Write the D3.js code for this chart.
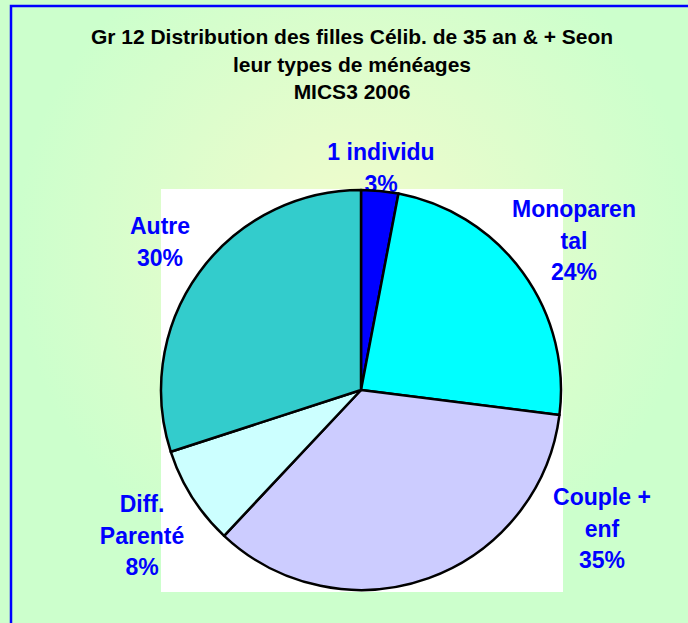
<!DOCTYPE html>
<html>
<head>
<meta charset="utf-8">
<script src="https://cdn.jsdelivr.net/npm/d3@7"></script>
<style>
  body { margin: 0; background: #ccffcc; }
  svg { display: block; font-family: "Liberation Sans", Arial, sans-serif; }
</style>
</head>
<body>
<svg width="688" height="623"></svg>
<script>
const titleLines = ["Gr 12 Distribution des filles Célib. de 35 an & + Seon", "leur types de ménéages", "MICS3 2006"];
const categories = ["1 individu", "Monoparental", "Couple + enf", "Diff. Parenté", "Autre"];
const values = [3, 24, 35, 8, 30];
const colors = ["#0000ff", "#00ffff", "#ccccff", "#ccffff", "#33cccc"];
// label text as wrapped in the original
const labelLines = [["1 individu", "3%"], ["Monoparen", "tal", "24%"], ["Couple +", "enf", "35%"], ["Diff.", "Parenté", "8%"], ["Autre", "30%"]];
const labelPos = [[381, 160], [574, 217], [602, 505], [142, 512], [160, 234]];

const svg = d3.select("svg");
const width = +svg.attr("width");
const height = +svg.attr("height");

const defs = svg.append("defs");
const grad = defs.append("radialGradient").attr("id", "bg")
  .attr("gradientUnits", "userSpaceOnUse")
  .attr("cx", 355).attr("cy", 250).attr("r", 340);
grad.append("stop").attr("offset", 0).attr("stop-color", "#f2fccc");
grad.append("stop").attr("offset", 0.35).attr("stop-color", "#e6fccc");
grad.append("stop").attr("offset", 1).attr("stop-color", "#ccffcc");

svg.append("rect").attr("x", 0).attr("y", 0).attr("width", width).attr("height", height).attr("fill", "#ccffcc");
svg.append("rect").attr("x", 11).attr("y", 6).attr("width", width + 20).attr("height", height + 20)
  .attr("fill", "url(#bg)").attr("stroke", "#0000ff").attr("stroke-width", 2.5);

// title
svg.append("g").selectAll("text").data(titleLines).enter()
  .append("text")
  .attr("x", 352)
  .attr("y", (d, i) => 44 + i * 27.5)
  .attr("text-anchor", "middle")
  .attr("font-size", 21)
  .attr("font-weight", "bold")
  .attr("fill", "#000")
  .text(d => d);

// plot area
svg.append("rect").attr("x", 161).attr("y", 189).attr("width", 402).attr("height", 403).attr("fill", "#fff");

const cx = 361, cy = 390, radius = 200;

// labels (drawn under the pie, as in the original)
const labels = svg.append("g");
labelLines.forEach((lines, i) => {
  labels.append("text")
    .attr("x", labelPos[i][0])
    .attr("y", labelPos[i][1])
    .attr("text-anchor", "middle")
    .attr("font-size", 23)
    .attr("font-weight", "bold")
    .attr("fill", "#0000ff")
    .selectAll("tspan").data(lines).enter()
    .append("tspan")
    .attr("x", labelPos[i][0])
    .attr("dy", (d, j) => j === 0 ? 0 : 31.5)
    .text(d => d);
});

const pie = d3.pie().sort(null).value(d => d);
const arc = d3.arc().innerRadius(0).outerRadius(radius);

const g = svg.append("g").attr("transform", `translate(${cx},${cy})`);
g.selectAll("path").data(pie(values)).enter()
  .append("path")
  .attr("d", arc)
  .attr("fill", (d, i) => colors[i])
  .attr("stroke", "#000")
  .attr("stroke-width", 2.5)
  .attr("stroke-linejoin", "round");
</script>
</body>
</html>
